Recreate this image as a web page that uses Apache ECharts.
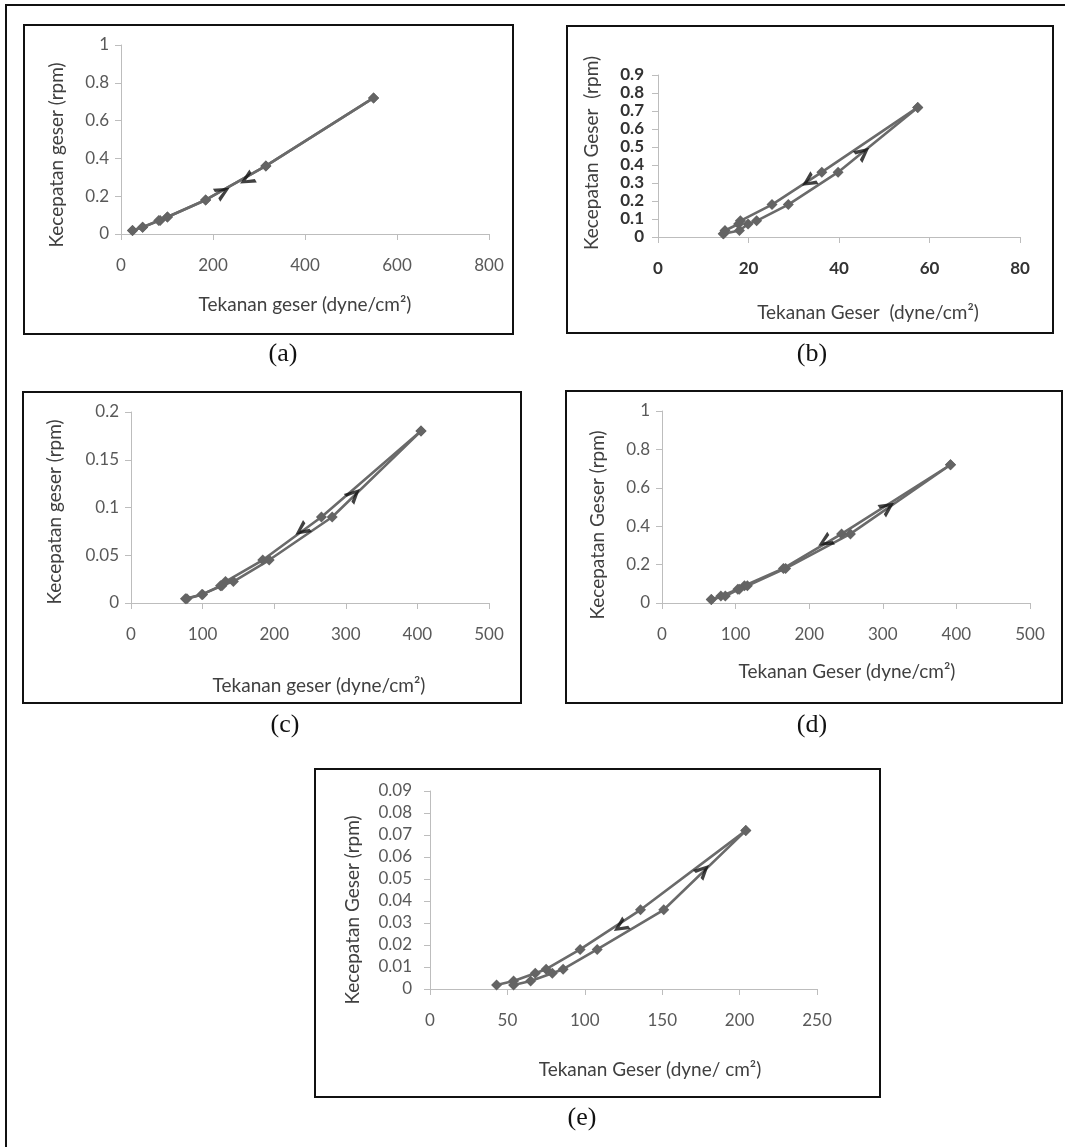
<!DOCTYPE html>
<html><head><meta charset="utf-8">
<script src="https://cdn.jsdelivr.net/npm/echarts@6/dist/echarts.min.js"></script>
<style>html,body{margin:0;padding:0;background:#fff}#c{width:1065px;height:1147px}</style>
</head><body><div id="c"></div>
<script>
// ---- data ----
const rpmY = [0.018, 0.036, 0.072, 0.09, 0.18, 0.36, 0.72];
const aUpX = [25, 47, 85, 101, 184, 315, 549];
const aDownX = [549, 315, 184, 101, 82, 47, 25];
const bUpX = [14.5, 18.0, 19.9, 21.8, 28.8, 39.8, 57.4];
const bDownX = [57.4, 36.2, 25.2, 18.2, 17.8, 14.8, 14.4];
const cY = [0.0045, 0.009, 0.018, 0.0225, 0.045, 0.09, 0.18];
const cUpX = [78, 100, 125, 143, 193, 281, 405];
const cDownX = [405, 266, 184, 132, 127, 99, 76];
const dY = [0.018, 0.036, 0.072, 0.09, 0.18, 0.36, 0.72];
const dUpX = [67, 86, 105, 116, 168, 256, 392];
const dDownX = [392, 244, 165, 112, 103, 80, 67];
const eY = [0.0018, 0.0036, 0.0072, 0.009, 0.018, 0.036, 0.072];
const eUpX = [54, 65, 79, 86, 108, 151, 204];
const eDownX = [204, 136, 97, 75, 68, 54, 43];
// arrow annotations: [x, y] in data units
const arrowsUp = [[222, 0.225], [45.4, 0.47], [312, 0.114], [307, 0.5], [176.7, 0.054]];
const arrowsDown = [[273, 0.287], [33.2, 0.307], [238, 0.076], [221, 0.318], [122.8, 0.0282]];
// axes
const xMax = [800, 80, 500, 500, 250];
const xStep = [200, 20, 100, 100, 50];
const yMax = [1, 0.9, 0.2, 1, 0.09];
const yStep = [0.2, 0.1, 0.05, 0.2, 0.01];
const yTitles = ['Kecepatan geser (rpm)', 'Kecepatan Geser  (rpm)', 'Kecepatan geser (rpm)', 'Kecepatan Geser (rpm)', 'Kecepatan Geser (rpm)'];
const xTitles = ['Tekanan geser (dyne/cm\u00B2)', 'Tekanan Geser  (dyne/cm\u00B2)', 'Tekanan geser (dyne/cm\u00B2)', 'Tekanan Geser (dyne/cm\u00B2)', 'Tekanan Geser (dyne/ cm\u00B2)'];
const panelLabels = ['(a)', '(b)', '(c)', '(d)', '(e)'];

const downYs = [rpmY.slice().reverse(), rpmY.slice().reverse(), cY.slice().reverse(), dY.slice().reverse(), eY.slice().reverse()];
const upYs = [rpmY, rpmY, cY, dY, eY];
const upXs = [aUpX, bUpX, cUpX, dUpX, eUpX];
const downXs = [aDownX, bDownX, cDownX, dDownX, eDownX];

// ---- layout ----
const grids = [
  {left: 121, top: 45, width: 368, height: 189},
  {left: 658, top: 75, width: 362, height: 162},
  {left: 131, top: 412, width: 358, height: 191},
  {left: 662, top: 411, width: 368, height: 192},
  {left: 430, top: 791, width: 387, height: 198}
];
const boxes = [[24,25,489,309],[567,26,486,307],[23,392,498,311],[566,391,496,312],[315,769,565,328]];
const yTitlePos = [[57,155],[592,153],[55,512],[598,525],[353,910]];
const xTitlePos = [[305,305],[868,313],[319,686],[847,672],[650,1070]];
const labelPos = [[283,354],[812,354],[285,725],[812,725],[582,1118]];
const yLabelMargin = [12, 14, 12, 12, 18];

const LINE = '#6a6a6a', MARK = '#646464', AXIS = '#bdbdbd', TXT = '#595959';
const chevron = 'path://M0,0L12,6L0,12L0,8.8L6.6,6L0,3.2Z';

function pairs(xs, ys){ return xs.map((x,i)=>[x, ys[i]]); }

const xAxis = [], yAxis = [], series = [];
for (let i = 0; i < 5; i++) {
  const bold = i === 1;
  xAxis.push({gridIndex: i, type: 'value', min: 0, max: xMax[i], interval: xStep[i],
    axisLine: {show: true, onZero: false, lineStyle: {color: AXIS, width: 1}},
    axisTick: {show: true, length: 6, lineStyle: {color: AXIS}},
    splitLine: {show: false},
    axisLabel: {margin: 23, color: bold ? '#333' : TXT, fontFamily: 'Lato', fontSize: bold ? 17 : 17, fontWeight: bold ? 'bold' : 'normal'}});
  yAxis.push({gridIndex: i, type: 'value', min: 0, max: yMax[i], interval: yStep[i],
    axisLine: {show: true, onZero: false, lineStyle: {color: AXIS, width: 1}},
    axisTick: {show: true, length: 6, lineStyle: {color: AXIS}},
    splitLine: {show: false},
    axisLabel: {margin: yLabelMargin[i], color: bold ? '#333' : TXT, fontFamily: 'Lato', fontSize: bold ? 17 : 17, fontWeight: bold ? 'bold' : 'normal'}});
  const common = {type: 'line', xAxisIndex: i, yAxisIndex: i, symbol: 'diamond', symbolSize: 11,
    lineStyle: {color: LINE, width: 2.6}, itemStyle: {color: MARK}, animation: false, z: 3};
  series.push(Object.assign({name: 'down' + i, data: pairs(downXs[i], downYs[i])}, common));
  series.push(Object.assign({name: 'up' + i, data: pairs(upXs[i], upYs[i])}, common));
  series.push({name: 'arrUp' + i, type: 'scatter', xAxisIndex: i, yAxisIndex: i, symbol: chevron, symbolSize: 15,
    itemStyle: {color: '#111'}, data: [arrowsUp[i]], animation: false, z: 5});
  series.push({name: 'arrDown' + i, type: 'scatter', xAxisIndex: i, yAxisIndex: i, symbol: chevron, symbolSize: 15,
    itemStyle: {color: '#111'}, data: [arrowsDown[i]], animation: false, z: 5});
}

const graphic = [];
// outer frame (top and left lines)
graphic.push({type: 'line', shape: {x1: 5, y1: 5, x2: 1065, y2: 5}, style: {stroke: '#111', lineWidth: 2}});
graphic.push({type: 'line', shape: {x1: 6, y1: 5, x2: 6, y2: 1147}, style: {stroke: '#111', lineWidth: 2}});
for (let i = 0; i < 5; i++) {
  const b = boxes[i];
  graphic.push({type: 'rect', shape: {x: b[0], y: b[1], width: b[2], height: b[3]}, style: {fill: 'none', stroke: '#111', lineWidth: 2}, z: 10});
  graphic.push({type: 'text', x: yTitlePos[i][0], y: yTitlePos[i][1], rotation: Math.PI / 2,
    style: {text: yTitles[i], font: '19px Lato', fill: '#404040', textAlign: 'center', textVerticalAlign: 'middle'}});
  graphic.push({type: 'text', x: xTitlePos[i][0], y: xTitlePos[i][1],
    style: {text: xTitles[i], font: '19px Lato', fill: '#404040', textAlign: 'center', textVerticalAlign: 'middle'}});
  graphic.push({type: 'text', x: labelPos[i][0], y: labelPos[i][1],
    style: {text: panelLabels[i], font: '26px "Liberation Serif"', fill: '#111', textAlign: 'center', textVerticalAlign: 'middle'}});
}

const chart = echarts.init(document.getElementById('c'), null, {renderer: 'canvas'});
chart.setOption({animation: false, backgroundColor: '#fff', grid: grids.map(g => Object.assign({containLabel: false}, g)),
  xAxis, yAxis, series, graphic});

// orient arrowheads along the curve they sit on
function angleAt(i, xs, ys, pt, towardsLargerX) {
  let best = 0, bestD = Infinity;
  for (let k = 0; k < xs.length - 1; k++) {
    const lo = Math.min(xs[k], xs[k+1]), hi = Math.max(xs[k], xs[k+1]);
    const d = pt[0] < lo ? lo - pt[0] : (pt[0] > hi ? pt[0] - hi : 0);
    if (d < bestD) { bestD = d; best = k; }
  }
  const p1 = chart.convertToPixel({gridIndex: i}, [xs[best], ys[best]]);
  const p2 = chart.convertToPixel({gridIndex: i}, [xs[best+1], ys[best+1]]);
  let dx = p2[0] - p1[0], dy = p2[1] - p1[1];
  if ((dx > 0) !== towardsLargerX) { dx = -dx; dy = -dy; }
  return Math.atan2(-dy, dx) * 180 / Math.PI;
}
const series2 = series.map((s) => {
  const m = /^arr(Up|Down)(\d)$/.exec(s.name);
  if (!m) return s;
  const i = +m[2];
  const rot = m[1] === 'Up'
    ? angleAt(i, upXs[i], upYs[i], arrowsUp[i], true)
    : angleAt(i, downXs[i], downYs[i], arrowsDown[i], false);
  return Object.assign({}, s, {symbolRotate: rot});
});
chart.setOption({series: series2});
</script></body></html>
